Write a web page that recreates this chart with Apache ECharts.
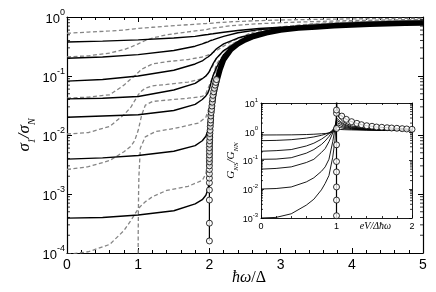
<!DOCTYPE html>
<html><head><meta charset="utf-8">
<script src="https://cdn.jsdelivr.net/npm/echarts@6/dist/echarts.min.js"></script>
<style>html,body{margin:0;padding:0;background:#fff}#c{width:436px;height:292px}</style>
</head><body><div id="c"></div>
<script>
const FONT = 'Liberation Sans';
const SERIF = 'Liberation Serif';

// ---------- main panel axes ----------
const mainXMin = 0, mainXMax = 5, mainXStep = 1;
const mainYMin = 1e-4, mainYMax = 1;
const mainMinorMult = [2, 3, 4, 5, 6, 7, 8, 9];
const mainDecades = [1e-4, 1e-3, 1e-2, 1e-1];

// ---------- main panel: solid curves ----------
const solidW = [0, 0.5, 1.0, 1.5, 1.8, 1.9, 1.95, 1.98, 2.0, 2.02, 2.05, 2.1, 2.2, 2.4, 2.7, 3, 3.5, 4, 4.5, 5];
const solid1 = [0.377, 0.39, 0.41, 0.44, 0.47, 0.49, 0.5, 0.505, 0.51, 0.515, 0.52, 0.53, 0.55, 0.59, 0.64, 0.67, 0.71, 0.74, 0.77, 0.8];
const solid2 = [0.2, 0.21, 0.23, 0.27, 0.32, 0.35, 0.37, 0.38, 0.39, 0.4, 0.41, 0.43, 0.47, 0.54, 0.61, 0.65, 0.7, 0.735, 0.765, 0.795];
const solid3 = [0.082, 0.087, 0.1, 0.125, 0.16, 0.18, 0.2, 0.21, 0.22, 0.23, 0.25, 0.29, 0.35, 0.44, 0.55, 0.62, 0.69, 0.73, 0.76, 0.79];
const solid4 = [0.041, 0.042, 0.045, 0.058, 0.075, 0.09, 0.1, 0.11, 0.12, 0.135, 0.16, 0.2, 0.27, 0.38, 0.52, 0.6, 0.68, 0.73, 0.76, 0.79];
const solid5 = [0.02, 0.021, 0.022, 0.026, 0.033, 0.04, 0.046, 0.052, 0.06, 0.075, 0.1, 0.14, 0.23, 0.36, 0.51, 0.6, 0.68, 0.73, 0.76, 0.79];
const solid6 = [0.0039, 0.0041, 0.0045, 0.0053, 0.0066, 0.008, 0.0095, 0.012, 0.016, 0.025, 0.05, 0.1, 0.2, 0.35, 0.51, 0.6, 0.68, 0.73, 0.76, 0.79];
const solid7 = [0.00039, 0.0004, 0.00044, 0.00052, 0.00068, 0.0008, 0.00095, 0.0012, 0.0016, 0.006, 0.04, 0.085, 0.2, 0.35, 0.51, 0.6, 0.68, 0.73, 0.76, 0.79];

// ---------- main panel: dashed curves ----------
const dashW = [0, 0.3, 0.6, 0.8, 0.9, 0.95, 1.0, 1.05, 1.1, 1.2, 1.4, 1.7, 1.9, 1.95, 2.0, 2.05, 2.1, 2.3, 2.6, 3, 3.5, 4, 4.5, 5];
const dash1 = [0.53, 0.555, 0.58, 0.6, 0.62, 0.63, 0.64, 0.65, 0.655, 0.67, 0.7, 0.74, 0.77, 0.775, 0.78, 0.79, 0.8, 0.83, 0.86, 0.89, 0.91, 0.93, 0.94, 0.95];
const dash2 = [0.21, 0.22, 0.245, 0.28, 0.31, 0.33, 0.35, 0.375, 0.4, 0.44, 0.5, 0.56, 0.6, 0.61, 0.63, 0.65, 0.66, 0.71, 0.76, 0.8, 0.84, 0.87, 0.89, 0.91];
const dash3 = [0.042, 0.044, 0.048, 0.07, 0.09, 0.1, 0.115, 0.13, 0.14, 0.16, 0.175, 0.19, 0.21, 0.22, 0.23, 0.25, 0.27, 0.38, 0.55, 0.68, 0.78, 0.83, 0.86, 0.89];
const dash4 = [0.0104, 0.011, 0.014, 0.022, 0.03, 0.038, 0.048, 0.056, 0.062, 0.068, 0.072, 0.079, 0.09, 0.1, 0.12, 0.15, 0.2, 0.34, 0.52, 0.66, 0.76, 0.81, 0.85, 0.88];
const dash5 = [0.0026, 0.0029, 0.0037, 0.0052, 0.0065, 0.008, 0.012, 0.022, 0.032, 0.037, 0.039, 0.042, 0.045, 0.05, 0.07, 0.1, 0.16, 0.33, 0.51, 0.66, 0.75, 0.8, 0.84, 0.87];
const dash6 = [9.5e-5, 1.05e-4, 1.4e-4, 2.4e-4, 3.6e-4, 4.5e-4, 5.6e-4, 6.5e-4, 7.4e-4, 9e-4, 1.15e-3, 1.35e-3, 1.7e-3, 2.2e-3, 0.005, 0.03, 0.09, 0.32, 0.5, 0.65, 0.74, 0.8, 0.84, 0.87];
const dash7W = [0.998, 1.0, 1.005, 1.01, 1.03, 1.1, 1.24, 1.52, 1.85, 1.95, 2.0, 2.05, 2.1, 2.3, 2.6, 3, 3.5, 4, 4.5, 5];
const dash7 = [1e-5, 2e-4, 0.001, 0.002, 0.006, 0.0093, 0.0114, 0.013, 0.016, 0.02, 0.03, 0.07, 0.13, 0.33, 0.5, 0.65, 0.74, 0.8, 0.84, 0.87];

// ---------- main panel: BCS curve ----------
const bcsThinW = [2.0, 2.0];
const bcsThinS = [1.6e-4, 0.003];
const bcsW = [2.0, 2.01, 2.02, 2.04, 2.06, 2.08, 2.1, 2.15, 2.2, 2.3, 2.4, 2.5, 2.6, 2.8, 3.0, 3.25, 3.5, 3.75, 4.0, 4.25, 4.5, 4.75, 5.0];
const bcsS = [0.003, 0.011, 0.02, 0.033, 0.048, 0.062, 0.078, 0.13, 0.19, 0.28, 0.35, 0.41, 0.46, 0.54, 0.6, 0.65, 0.68, 0.71, 0.73, 0.75, 0.765, 0.78, 0.79];
const bcsCircW = [2.0, 2.0, 2.0, 2.0, 2.0, 2.0, 2.0, 2.0, 2.0, 2.0, 2.0, 2.0, 2.0, 2.0, 2.0, 2.003, 2.005, 2.007, 2.01, 2.012, 2.015, 2.018, 2.02, 2.025, 2.03, 2.035, 2.04, 2.045, 2.05, 2.06, 2.07, 2.08, 2.09, 2.1];
const bcsCircS = [1.6e-4, 3.2e-4, 7.9e-4, 1.17e-3, 1.55e-3, 1.86e-3, 2.2e-3, 2.6e-3, 3.0e-3, 3.5e-3, 4.0e-3, 4.6e-3, 5.3e-3, 6.1e-3, 7e-3, 8e-3, 9.2e-3, 0.0106, 0.012, 0.014, 0.016, 0.018, 0.021, 0.024, 0.027, 0.031, 0.036, 0.041, 0.047, 0.054, 0.062, 0.07, 0.078, 0.087];

// ---------- inset ----------
const inXMin = 0, inXMax = 2, inXStep = 1;
const inYMin = 1e-3, inYMax = 10;
const inDecades = [1e-3, 1e-2, 1e-1, 1];
const inW = [0, 0.2, 0.4, 0.6, 0.7, 0.8, 0.85, 0.9, 0.95, 0.98, 1.0, 1.02, 1.05, 1.1, 1.2, 1.4, 1.6, 1.8, 2.0];
const inA = [0.77, 0.775, 0.78, 0.8, 0.82, 0.85, 0.87, 0.9, 0.97, 1.05, 1.15, 1.2, 1.2, 1.18, 1.16, 1.13, 1.12, 1.11, 1.1];
const inB = [0.49, 0.5, 0.53, 0.6, 0.66, 0.75, 0.82, 0.92, 1.1, 1.3, 1.45, 1.45, 1.4, 1.3, 1.22, 1.16, 1.13, 1.12, 1.11];
const inC = [0.21, 0.22, 0.24, 0.32, 0.4, 0.55, 0.68, 0.85, 1.15, 1.5, 1.75, 1.75, 1.6, 1.42, 1.28, 1.18, 1.14, 1.12, 1.11];
const inD = [0.11, 0.112, 0.125, 0.18, 0.24, 0.36, 0.48, 0.68, 1.05, 1.6, 2.1, 2.1, 1.85, 1.55, 1.33, 1.2, 1.15, 1.13, 1.12];
const inE = [0.05, 0.053, 0.06, 0.085, 0.11, 0.19, 0.26, 0.45, 0.9, 1.6, 2.5, 2.5, 2.1, 1.7, 1.4, 1.22, 1.16, 1.13, 1.12];
const inF = [0.0102, 0.0106, 0.012, 0.018, 0.025, 0.042, 0.06, 0.11, 0.45, 1.3, 3.0, 3.0, 2.3, 1.85, 1.48, 1.25, 1.17, 1.14, 1.12];
const inG = [0.001, 0.00105, 0.0014, 0.0028, 0.0045, 0.0095, 0.016, 0.03, 0.13, 0.5, 4.2, 3.6, 2.8, 2.1, 1.6, 1.3, 1.2, 1.15, 1.13];
const inBcsW = [1.0, 1.0, 1.005, 1.02, 1.07, 1.13, 1.2, 1.27, 1.33, 1.4, 1.47, 1.53, 1.6, 1.67, 1.73, 1.8, 1.87, 1.93, 2.0];
const inBcsS = [0.0005, 30, 7, 4.6, 3.5, 2.7, 2.24, 1.96, 1.76, 1.62, 1.55, 1.46, 1.43, 1.38, 1.35, 1.32, 1.28, 1.25, 1.22];
const inCircW = [1.0, 1.0, 1.0, 1.0, 1.0, 1.0, 1.0, 1.0, 1.0, 1.07, 1.13, 1.2, 1.27, 1.33, 1.4, 1.47, 1.53, 1.6, 1.67, 1.73, 1.8, 1.87, 1.93, 2.0];
const inCircS = [0.0012, 0.0042, 0.012, 0.04, 0.092, 0.35, 1.3, 4.4, 5.7, 3.5, 2.7, 2.24, 1.96, 1.76, 1.62, 1.55, 1.46, 1.43, 1.38, 1.35, 1.32, 1.28, 1.25, 1.22];

// ---------- build ----------
const pairs = (xs, ys) => xs.map((x, i) => [x, ys[i]]);
const minorVals = d => { const out = []; d.forEach(dec => mainMinorMult.forEach(m => out.push(dec * m))); return out; };

const chart = echarts.init(document.getElementById('c'), null, { renderer: 'canvas' });

const supLabel = (bs, ss, raise) => ({
  formatter: v => '{b|10}{s|' + Math.round(Math.log10(v)) + '}',
  rich: {
    b: { fontSize: bs, fontFamily: FONT, color: '#000', padding: [raise, 0, 0, 0], verticalAlign: 'bottom' },
    s: { fontSize: ss, fontFamily: FONT, color: '#000', verticalAlign: 'top' }
  }
});

const lineS = (data, xi, yi, style, z) => ({
  type: 'line', xAxisIndex: xi, yAxisIndex: yi, data, symbol: 'none', showSymbol: false,
  lineStyle: style, z: z, silent: true, animation: false, clip: true
});

const solidStyle = { color: '#000', width: 1.4 };
const dashStyle = { color: '#858585', width: 1.3, type: [4, 2.5] };
const inStyle = { color: '#000', width: 0.9 };

const minorTickSeries = (xi, yi, xmin, xmax, vals, len) => ({
  type: 'custom', xAxisIndex: xi, yAxisIndex: yi, silent: true, animation: false, clip: false,
  z: yi >= 2 ? 13 : 5,
  data: vals.map(v => [xmin, v]),
  renderItem: (params, api) => {
    const y = api.value(1);
    const L = api.coord([xmin, y]);
    const R = api.coord([xmax, y]);
    return { type: 'group', children: [
      { type: 'line', shape: { x1: L[0], y1: L[1], x2: L[0] + len, y2: L[1] }, style: { stroke: '#000', lineWidth: 0.8 } },
      { type: 'line', shape: { x1: R[0] - len, y1: R[1], x2: R[0], y2: R[1] }, style: { stroke: '#000', lineWidth: 0.8 } }
    ] };
  }
});

const axLine = w => ({ show: true, onZero: false, lineStyle: { color: '#000', width: w } });

const option = {
  animation: false,
  backgroundColor: '#fff',
  grid: [
    { left: 67, top: 17, width: 356, height: 236, show: false },
    { left: 261, top: 103, width: 151, height: 115, show: true, backgroundColor: '#fff', borderWidth: 0, z: 10 }
  ],
  xAxis: [
    { gridIndex: 0, type: 'value', min: mainXMin, max: mainXMax, interval: mainXStep, position: 'bottom',
      axisLine: axLine(1.2), splitLine: { show: false },
      axisTick: { inside: true, length: 5, lineStyle: { color: '#000' } },
      minorTick: { show: true, splitNumber: 5, length: 3, lineStyle: { color: '#000' } },
      axisLabel: { fontSize: 14, fontFamily: FONT, color: '#000', margin: 5 },
      name: '{i|ħω}{n|/Δ}', nameLocation: 'middle', nameGap: 17, nameMoveOverlap: false,
      nameTextStyle: { padding: [0, 0, 0, 8], rich: { i: { fontSize: 16, fontFamily: SERIF, fontStyle: 'italic', color: '#000' }, n: { fontSize: 16, fontFamily: SERIF, color: '#000' } } } },
    { gridIndex: 0, type: 'value', min: mainXMin, max: mainXMax, interval: mainXStep, position: 'top',
      axisLine: axLine(1.2), splitLine: { show: false },
      axisTick: { inside: true, length: 5, lineStyle: { color: '#000' } },
      minorTick: { show: true, splitNumber: 5, length: 3, lineStyle: { color: '#000' } },
      axisLabel: { show: false } },
    { gridIndex: 1, type: 'value', min: inXMin, max: inXMax, interval: inXStep, position: 'bottom', z: 12,
      axisLine: axLine(0.9), splitLine: { show: false },
      axisTick: { inside: true, length: 3, lineStyle: { color: '#000', width: 0.8 } },
      minorTick: { show: true, splitNumber: 5, length: 2, lineStyle: { color: '#000', width: 0.8 } },
      axisLabel: { fontSize: 9, fontFamily: FONT, color: '#000', margin: 4 },
      name: 'eV/Δħω', nameLocation: 'middle', nameGap: 3, nameMoveOverlap: false,
      nameTextStyle: { fontSize: 10, fontFamily: SERIF, fontStyle: 'italic', color: '#000', padding: [0, 0, 0, 78] } },
    { gridIndex: 1, type: 'value', min: inXMin, max: inXMax, interval: inXStep, position: 'top', z: 12,
      axisLine: axLine(0.9), splitLine: { show: false },
      axisTick: { inside: true, length: 3, lineStyle: { color: '#000', width: 0.8 } },
      minorTick: { show: true, splitNumber: 5, length: 2, lineStyle: { color: '#000', width: 0.8 } },
      axisLabel: { show: false } }
  ],
  yAxis: [
    { gridIndex: 0, type: 'log', logBase: 10, min: mainYMin, max: mainYMax, position: 'left',
      axisLine: axLine(1.2), splitLine: { show: false },
      axisTick: { inside: true, length: 5, lineStyle: { color: '#000' } },
      axisLabel: Object.assign({ margin: 2 }, supLabel(13, 9, 4)),
      name: '{s|σ}{u|1}{s|/σ}{u|N}', nameLocation: 'middle', nameGap: 30, nameRotate: 90, nameMoveOverlap: false,
      nameTextStyle: { rich: {
        s: { fontSize: 17, fontFamily: SERIF, fontStyle: 'italic', color: '#000', padding: [0, 0, 4, 0], verticalAlign: 'top' },
        u: { fontSize: 10, fontFamily: SERIF, fontStyle: 'italic', color: '#000', verticalAlign: 'bottom' } } } },
    { gridIndex: 0, type: 'log', logBase: 10, min: mainYMin, max: mainYMax, position: 'right',
      axisLine: axLine(1.2), splitLine: { show: false },
      axisTick: { inside: true, length: 5, lineStyle: { color: '#000' } },
      axisLabel: { show: false } },
    { gridIndex: 1, type: 'log', logBase: 10, min: inYMin, max: inYMax, position: 'left', z: 12,
      axisLine: axLine(0.9), splitLine: { show: false },
      axisTick: { inside: true, length: 3, lineStyle: { color: '#000', width: 0.8 } },
      axisLabel: Object.assign({ margin: 3 }, supLabel(9, 6, 3)),
      name: '{s|G}{u|NS}{s|/G}{u|NN}', nameLocation: 'middle', nameGap: 21, nameRotate: 90, nameMoveOverlap: false,
      nameTextStyle: { rich: {
        s: { fontSize: 11, fontFamily: SERIF, fontStyle: 'italic', color: '#000', padding: [0, 0, 3, 0], verticalAlign: 'top' },
        u: { fontSize: 7, fontFamily: SERIF, fontStyle: 'italic', color: '#000', verticalAlign: 'bottom' } } } },
    { gridIndex: 1, type: 'log', logBase: 10, min: inYMin, max: inYMax, position: 'right', z: 12,
      axisLine: axLine(0.9), splitLine: { show: false },
      axisTick: { inside: true, length: 3, lineStyle: { color: '#000', width: 0.8 } },
      axisLabel: { show: false } }
  ],
  series: [
    lineS(pairs(dashW, dash1), 0, 0, dashStyle, 2),
    lineS(pairs(dashW, dash2), 0, 0, dashStyle, 2),
    lineS(pairs(dashW, dash3), 0, 0, dashStyle, 2),
    lineS(pairs(dashW, dash4), 0, 0, dashStyle, 2),
    lineS(pairs(dashW, dash5), 0, 0, dashStyle, 2),
    lineS(pairs(dashW, dash6), 0, 0, dashStyle, 2),
    lineS(pairs(dash7W, dash7), 0, 0, dashStyle, 2),
    lineS(pairs(solidW, solid1), 0, 0, solidStyle, 3),
    lineS(pairs(solidW, solid2), 0, 0, solidStyle, 3),
    lineS(pairs(solidW, solid3), 0, 0, solidStyle, 3),
    lineS(pairs(solidW, solid4), 0, 0, solidStyle, 3),
    lineS(pairs(solidW, solid5), 0, 0, solidStyle, 3),
    lineS(pairs(solidW, solid6), 0, 0, solidStyle, 3),
    lineS(pairs(solidW, solid7), 0, 0, solidStyle, 3),
    lineS(pairs(bcsThinW, bcsThinS), 0, 0, { color: '#000', width: 1.2 }, 4),
    lineS(pairs(bcsW, bcsS), 0, 0, { color: '#000', width: 5.5 }, 4),
    { type: 'scatter', xAxisIndex: 0, yAxisIndex: 0, data: pairs(bcsCircW, bcsCircS), symbol: 'circle', symbolSize: 6,
      itemStyle: { color: '#fff', borderColor: '#000', borderWidth: 1 }, z: 5, silent: true, animation: false },
    minorTickSeries(0, 0, mainXMin, mainXMax, minorVals(mainDecades), 3),
    // inset
    lineS(pairs(inW, inA), 2, 2, inStyle, 11),
    lineS(pairs(inW, inB), 2, 2, inStyle, 11),
    lineS(pairs(inW, inC), 2, 2, inStyle, 11),
    lineS(pairs(inW, inD), 2, 2, inStyle, 11),
    lineS(pairs(inW, inE), 2, 2, inStyle, 11),
    lineS(pairs(inW, inF), 2, 2, inStyle, 11),
    lineS(pairs(inW, inG), 2, 2, inStyle, 11),
    lineS(pairs(inBcsW, inBcsS), 2, 2, { color: '#000', width: 1.2 }, 11),
    { type: 'scatter', xAxisIndex: 2, yAxisIndex: 2, data: pairs(inCircW, inCircS), symbol: 'circle', symbolSize: 6,
      itemStyle: { color: '#fff', borderColor: '#000', borderWidth: 1 }, z: 12, silent: true, animation: false },
    minorTickSeries(2, 2, inXMin, inXMax, minorVals(inDecades), 2)
  ]
};
chart.setOption(option);
</script>
</body></html>
